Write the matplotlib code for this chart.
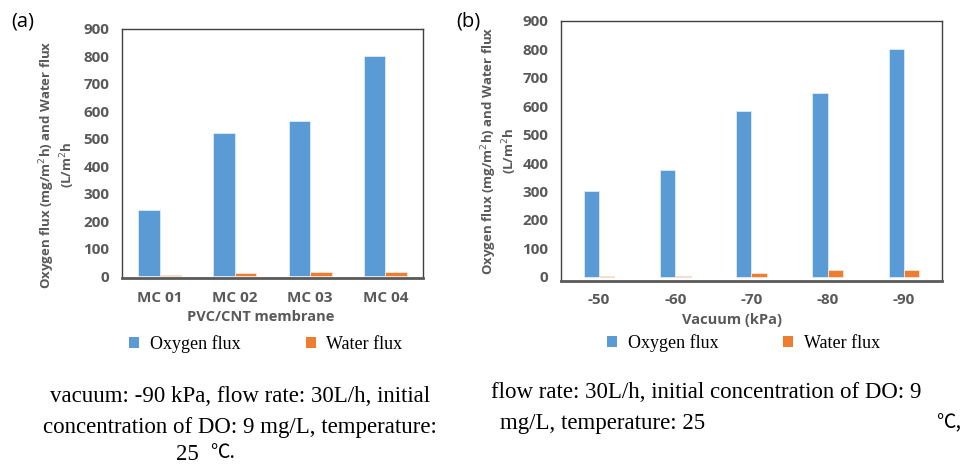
import matplotlib
matplotlib.use("Agg")
import matplotlib.pyplot as plt
import numpy as np

# panel (a)
membranes = ["MC 01", "MC 02", "MC 03", "MC 04"]
oxy_a = [240, 520, 565, 800]
water_a = [5, 10, 16, 16]

# panel (b)
vacuum = ["-50", "-60", "-70", "-80", "-90"]
oxy_b = [300, 375, 585, 645, 800]
water_b = [3, 3, 13, 25, 25]

yticks = [0, 100, 200, 300, 400, 500, 600, 700, 800, 900]

blue = "#5B9BD5"
orange = "#ED7D31"
gray = "#595959"
ylab = "Oxygen flux (mg/m$^2$h) and Water flux\n(L/m$^2$h"

fig = plt.figure(figsize=(9.62, 4.67), dpi=100)


def panel(rect, cats, oxy, water, width, ylo, xlabel, xl_pos, yl_pos, leg_pos):
    ax = fig.add_axes(rect)
    x = np.arange(len(cats))
    ax.bar(x - width / 2, oxy, width, color=blue, edgecolor="#DDEBF7", linewidth=0.6,
           label="Oxygen flux", zorder=2)
    ax.bar(x + width / 2, water, width, color=orange, edgecolor="#FBE5D6", linewidth=0.6,
           label="Water flux", zorder=2)
    ax.set_xlim(-0.5, len(cats) - 0.5)
    ax.set_ylim(ylo, 900)
    ax.set_yticks(yticks)
    ax.set_xticks(x)
    ax.set_xticklabels(cats)
    ax.tick_params(length=0, labelsize=11, labelcolor=gray, pad=9)
    for t in ax.get_xticklabels() + ax.get_yticklabels():
        t.set_fontweight("bold")
        t.set_family("Open Sans")
    for s in ["left", "top", "right"]:
        ax.spines[s].set_color("#404040")
        ax.spines[s].set_linewidth(1.0)
    ax.spines["bottom"].set_color("#595959")
    ax.spines["bottom"].set_linewidth(2.0)
    ax.set_ylabel(ylab, fontsize=9.5, fontweight="bold", color=gray, family="Open Sans",
                  linespacing=1.1)
    ax.yaxis.set_label_coords(*yl_pos)
    ax.set_xlabel(xlabel, fontsize=10.5, fontweight="bold", color=gray, family="Open Sans")
    ax.xaxis.set_label_coords(*xl_pos)
    leg = ax.legend(loc="center", bbox_to_anchor=leg_pos, ncol=2, frameon=False,
                    prop={"family": "Liberation Serif", "size": 13},
                    handlelength=0.55, handleheight=0.55, handletextpad=0.6,
                    columnspacing=3.6)
    for h in leg.legend_handles:
        h.set_edgecolor("none")
    return ax


panel([122 / 962, 1 - 278 / 467, 301 / 962, 249 / 467], membranes, oxy_a, water_a,
      0.285, -7, "PVC/CNT membrane", (0.462, -0.128), (-0.15, 0.454), (0.478, -0.265))
panel([561 / 962, 1 - 281 / 467, 381 / 962, 260 / 467], vacuum, oxy_b, water_b,
      0.2, -15, "Vacuum (kPa)", (0.448, -0.122), (-0.11, 0.5), (0.479, -0.238))

fig.text(11 / 962, 1 - 22 / 467, "(a)", fontsize=14.5, family="Open Sans", va="center")
fig.text(456 / 962, 1 - 22 / 467, "(b)", fontsize=14.5, family="Open Sans", va="center")

serif = ["Liberation Serif", "DejaVu Sans"]
cap = dict(fontsize=16.5, family=serif, va="center")
sym = dict(fontsize=14, family="Noto Sans CJK SC", va="center")
fig.text(240 / 962, 1 - 397 / 467, "vacuum: -90 kPa, flow rate: 30L/h, initial", ha="center", **cap)
fig.text(240 / 962, 1 - 428 / 467, "concentration of DO: 9 mg/L, temperature:", ha="center", **cap)
fig.text(176 / 962, 1 - 455 / 467, "25", ha="left", **cap)
fig.text(210 / 962, 1 - 453 / 467, "\u2103.", ha="left", **sym)
fig.text(491 / 962, 1 - 393 / 467, "flow rate: 30L/h, initial concentration of DO: 9", ha="left", **cap)
fig.text(500 / 962, 1 - 423 / 467, "mg/L, temperature: 25", ha="left", **cap)
fig.text(961 / 962, 1 - 423 / 467, "\u2103,", ha="right", **sym)

fig.savefig("out.png", dpi=100)
